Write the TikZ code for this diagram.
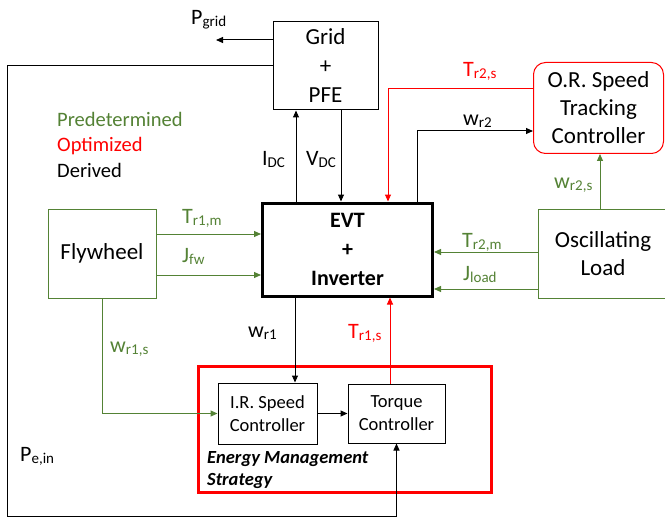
\documentclass[tikz,border=0pt]{standalone}
\usepackage{fontspec}
\setmainfont{Carlito}
\usetikzlibrary{arrows.meta}
\definecolor{pgreen}{RGB}{84,130,53}
\definecolor{pred}{RGB}{255,0,0}
\newcommand\lbl[2]{#1\raisebox{-2pt}{\fontsize{15}{15}\selectfont #2}}
\begin{document}
\begin{tikzpicture}[x=1pt,y=-1pt,
 box/.style={draw,line width=1pt,align=center,inner sep=0pt,font=\fontsize{23}{29}\selectfont},
 gbox/.style={box,draw=pgreen},
 sbox/.style={draw,line width=1pt,align=center,inner sep=0pt,font=\fontsize{18.5}{23}\selectfont},
 arr/.style={line width=1pt,-{Triangle[length=7pt,width=6pt]}},
 lab/.style={font=\fontsize{22}{22}\selectfont,inner sep=0pt,anchor=base west},
 leg/.style={font=\fontsize{20.5}{20.5}\selectfont,inner sep=0pt,anchor=base west},
]
\useasboundingbox (0,0) rectangle (665,519);
% boxes
\node[box,minimum width=105,minimum height=88] (grid) at (325.5,66) {Grid\\+\\PFE};
\node[box,line width=3pt,minimum width=170,minimum height=93,font=\fontsize{22}{29}\selectfont\bfseries] (evt) at (347.5,249.5) {EVT\\+\\Inverter};
\node[box,draw=pred,rounded corners=12pt,minimum width=130,minimum height=91,font=\fontsize{23}{28}\selectfont] (or) at (598.5,108) {O.R. Speed\\Tracking\\Controller};
\node[gbox,minimum width=130,minimum height=89,font=\fontsize{23}{28}\selectfont] (load) at (603,253.5) {Oscillating\\Load};
\node[gbox,minimum width=108,minimum height=89] (fly) at (102,253.5) {Flywheel};
\node[draw=pred,line width=3pt,minimum width=293,minimum height=126,inner sep=0pt] (ems) at (345,429.5) {};
\node[sbox,minimum width=99,minimum height=61] (ir) at (267.5,413.5) {I.R. Speed\\Controller};
\node[sbox,minimum width=97,minimum height=59] (tq) at (396.5,413.5) {Torque\\Controller};
\node[inner sep=0pt,anchor=base west,align=left,font=\fontsize{18.5}{22}\selectfont\bfseries\itshape] (emst) at (207,485) {Energy Management\\Strategy};
% legend
\node[leg,text=pgreen] (l1) at (57,127) {Predetermined};
\node[leg,text=pred] (l2) at (57,152) {Optimized};
\node[leg] (l3) at (57,177) {Derived};
% coordinates
\coordinate (pg) at (216,40);
\coordinate (lp) at (7,516);
\coordinate (idc) at (296,0);
\coordinate (vdc) at (341,0);
\coordinate (t2s) at (388,89);
\coordinate (w2) at (417,131);
\coordinate (w2s) at (600,0);
\coordinate (t2m) at (0,252);
\coordinate (jl) at (0,289);
\coordinate (t1m) at (0,234);
\coordinate (jf) at (0,275);
\coordinate (w1) at (295,0);
\coordinate (t1s) at (390,0);
% connectors
\draw[arr] (grid.west |- pg) -- (pg);
\draw[arr] (grid.west) -| (lp) -| (tq.south);
\draw[arr] (evt.north -| idc) -- (grid.south -| idc);
\draw[arr] (grid.south -| vdc) -- (evt.north -| vdc);
\draw[arr,pred] (or.west |- t2s) -| (evt.north -| t2s);
\draw[arr] (evt.north -| w2) |- (or.west |- w2);
\draw[arr,pgreen] (load.north -| w2s) -- (or.south -| w2s);
\draw[arr,pgreen] (load.west |- t2m) -- (evt.east |- t2m);
\draw[arr,pgreen] (load.west |- jl) -- (evt.east |- jl);
\draw[arr,pgreen] (fly.east |- t1m) -- (evt.west |- t1m);
\draw[arr,pgreen] (fly.east |- jf) -- (evt.west |- jf);
\draw[arr,pgreen] (fly.south) |- (ir.west);
\draw[arr] (evt.south -| w1) -- (ir.north -| w1);
\draw[arr] (ir.east) -- (tq.west);
\draw[arr,pred] (tq.north -| t1s) -- (evt.south -| t1s);
% labels
\node[lab] (lpg) at (191,25) {\lbl{P}{grid}};
\node[lab] (lidc) at (262,165) {\lbl{I}{DC}};
\node[lab] (lvdc) at (306,165) {\lbl{V}{DC}};
\node[lab,text=pred] (lt2s) at (463,77) {\lbl{T}{r2,s}};
\node[lab] (lw2) at (463,125) {\lbl{w}{r2}};
\node[lab,text=pgreen] (lw2s) at (554,188) {\lbl{w}{r2,s}};
\node[lab,text=pgreen] (lt2m) at (462,247) {\lbl{T}{r2,m}};
\node[lab,text=pgreen] (ljl) at (463,280) {\lbl{J}{load}};
\node[lab,text=pgreen] (lt1m) at (182,223) {\lbl{T}{r1,m}};
\node[lab,text=pgreen] (ljf) at (182,262) {\lbl{J}{fw}};
\node[lab,text=pgreen] (lw1s) at (110,352) {\lbl{w}{r1,s}};
\node[lab] (lw1) at (248,337) {\lbl{w}{r1}};
\node[lab,text=pred] (lt1s) at (348,338) {\lbl{T}{r1,s}};
\node[lab] (lpe) at (20,461) {\lbl{P}{e,in}};
\end{tikzpicture}
\end{document}
